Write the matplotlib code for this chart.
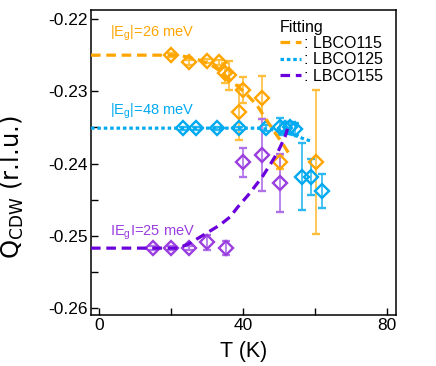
import matplotlib
matplotlib.use("Agg")
import matplotlib.pyplot as plt

plt.rcParams['font.family'] = ['Liberation Sans', 'DejaVu Sans']
plt.rcParams['mathtext.fontset'] = 'custom'
plt.rcParams['mathtext.rm'] = 'Liberation Sans'
plt.rcParams['mathtext.sf'] = 'DejaVu Sans'

# LBCO115 data
T115 = [20, 25, 30, 33.3, 35, 36, 39, 40, 45.3, 50.3, 60.3]
Q115 = [-0.2250, -0.2260, -0.2258, -0.2260, -0.2275, -0.2278, -0.2329, -0.2298, -0.2309, -0.2398, -0.2398]
E115 = [0.0003, 0.0003, 0.0003, 0.0003, 0.0014, 0.0020, 0.0038, 0.0018, 0.0030, 0.0010, 0.0100]

# LBCO125 data
T125 = [23.3, 27, 32.7, 39, 46.4, 50.3, 51.7, 53, 54.4, 56.4, 59, 62]
Q125 = [-0.2351, -0.2351, -0.2351, -0.2351, -0.2351, -0.2349, -0.2351, -0.2350, -0.2352, -0.2418, -0.2418, -0.2438]
E125 = [0.0002, 0.0002, 0.0002, 0.0002, 0.0004, 0.0012, 0.0008, 0.0008, 0.0008, 0.0046, 0.0025, 0.0024]

# LBCO155 data
T155 = [15, 20, 25, 30, 35.3, 40, 45.3, 50.3]
Q155 = [-0.2517, -0.2517, -0.2517, -0.2509, -0.2517, -0.2398, -0.2388, -0.2427]
E155 = [0.0003, 0.0003, 0.0003, 0.0010, 0.0010, 0.0020, 0.0050, 0.0040]

# Fit curves
fT115 = [-2.2, 22, 25, 28, 31, 34, 36.4, 39, 41.6, 44, 47, 49, 51, 53]
fQ115 = [-0.2250, -0.2250, -0.2253, -0.2257, -0.2263, -0.2273, -0.2284, -0.2295, -0.2307, -0.2320, -0.2343, -0.2358, -0.2372, -0.2388]
fT125 = [-2.2, 44, 48, 52, 55, 57, 59]
fQ125 = [-0.2351, -0.2351, -0.2353, -0.2357, -0.2362, -0.2366, -0.2369]
fT155 = [-2.2, 22, 25, 27, 30, 33.6, 36.4, 38.6, 41.4, 45.3, 47.5, 49.7, 51.7, 52.4]
fQ155 = [-0.2517, -0.2517, -0.2511, -0.2505, -0.2496, -0.2485, -0.2474, -0.2460, -0.2444, -0.2419, -0.2402, -0.2384, -0.2363, -0.2352]

c_or = '#FFA500'
c_or_err = '#FFBE3C'
c_bl = '#00AAF0'
c_bl_err = '#2CB8F2'
c_pu = '#9A3EE0'
c_pu_err = '#AF70E8'
c_pu_fit = '#6A00DC'

fig = plt.figure(figsize=(4.36, 3.66), dpi=100)
ax = fig.add_axes([0.2087, 0.139, 0.908 - 0.2087, 0.9727 - 0.139])

mk = dict(fmt='D', ms=7, mfc='none', mew=1.7, elinewidth=1.2, capsize=3, capthick=1.2)
ax.errorbar(T115, Q115, yerr=E115, mec=c_or, ecolor=c_or_err, **mk, zorder=3)
ax.errorbar(T125, Q125, yerr=E125, mec=c_bl, ecolor=c_bl_err, **mk, zorder=3)
ax.errorbar(T155, Q155, yerr=E155, mec=c_pu, ecolor=c_pu_err, **mk, zorder=3)

l1, = ax.plot(fT115, fQ115, color=c_or, lw=2.3, dashes=(3, 1.8), zorder=4)
l2, = ax.plot(fT125, fQ125, color=c_bl, lw=2.3, dashes=(1.1, 0.9), zorder=4)
l3, = ax.plot(fT155, fQ155, color=c_pu_fit, lw=2.3, dashes=(3, 1.8), zorder=4)

leg = ax.legend([l1, l2, l3], [': LBCO115', ': LBCO125', ': LBCO155'], title='Fitting',
                loc='upper right', frameon=False, fontsize=11.5, title_fontsize=11.5,
                handlelength=1.3, handletextpad=0.2, labelspacing=0.08,
                borderaxespad=0.0, borderpad=0.0, bbox_to_anchor=(0.957, 0.968))
leg._legend_box.align = 'left'

ax.text(3, -0.2219, r'$|$E$_\mathregular{g}$$|$=26 meV', color=c_or, fontsize=10.5, va='center')
ax.text(3, -0.2327, r'$|$E$_\mathregular{g}$$|$=48 meV', color=c_bl, fontsize=10.5, va='center')
ax.text(3, -0.2495, r'IE$_\mathregular{g}$I=25 meV', color=c_pu, fontsize=10.5, va='center')

ax.set_xlim(-2.2, 82.5)
ax.set_ylim(-0.26097, -0.21875)
ax.set_xticks([0, 40, 80])
ax.set_xticks([20, 60], minor=True)
ax.set_yticks([-0.26, -0.25, -0.24, -0.23, -0.22])
ax.set_yticklabels(['-0.26', '-0.25', '-0.24', '-0.23', '-0.22'])
ax.set_yticks([-0.255, -0.245, -0.235, -0.225], minor=True)
ax.tick_params(which='both', direction='in', labelsize=12.5, width=1, top=False, right=False, pad=2)
ax.tick_params(which='major', length=5)
ax.tick_params(which='minor', length=5)
for s in ax.spines.values():
    s.set_linewidth(1.1)

ax.set_xlabel('T (K)', fontsize=15.5, labelpad=6)
ax.set_ylabel(r'Q$_\mathsf{CDW}$ (r.l.u.)', fontsize=17.5, family=['DejaVu Sans'])
ax.yaxis.set_label_coords(-0.212, 0.42)

fig.savefig('out.png', dpi=100)
